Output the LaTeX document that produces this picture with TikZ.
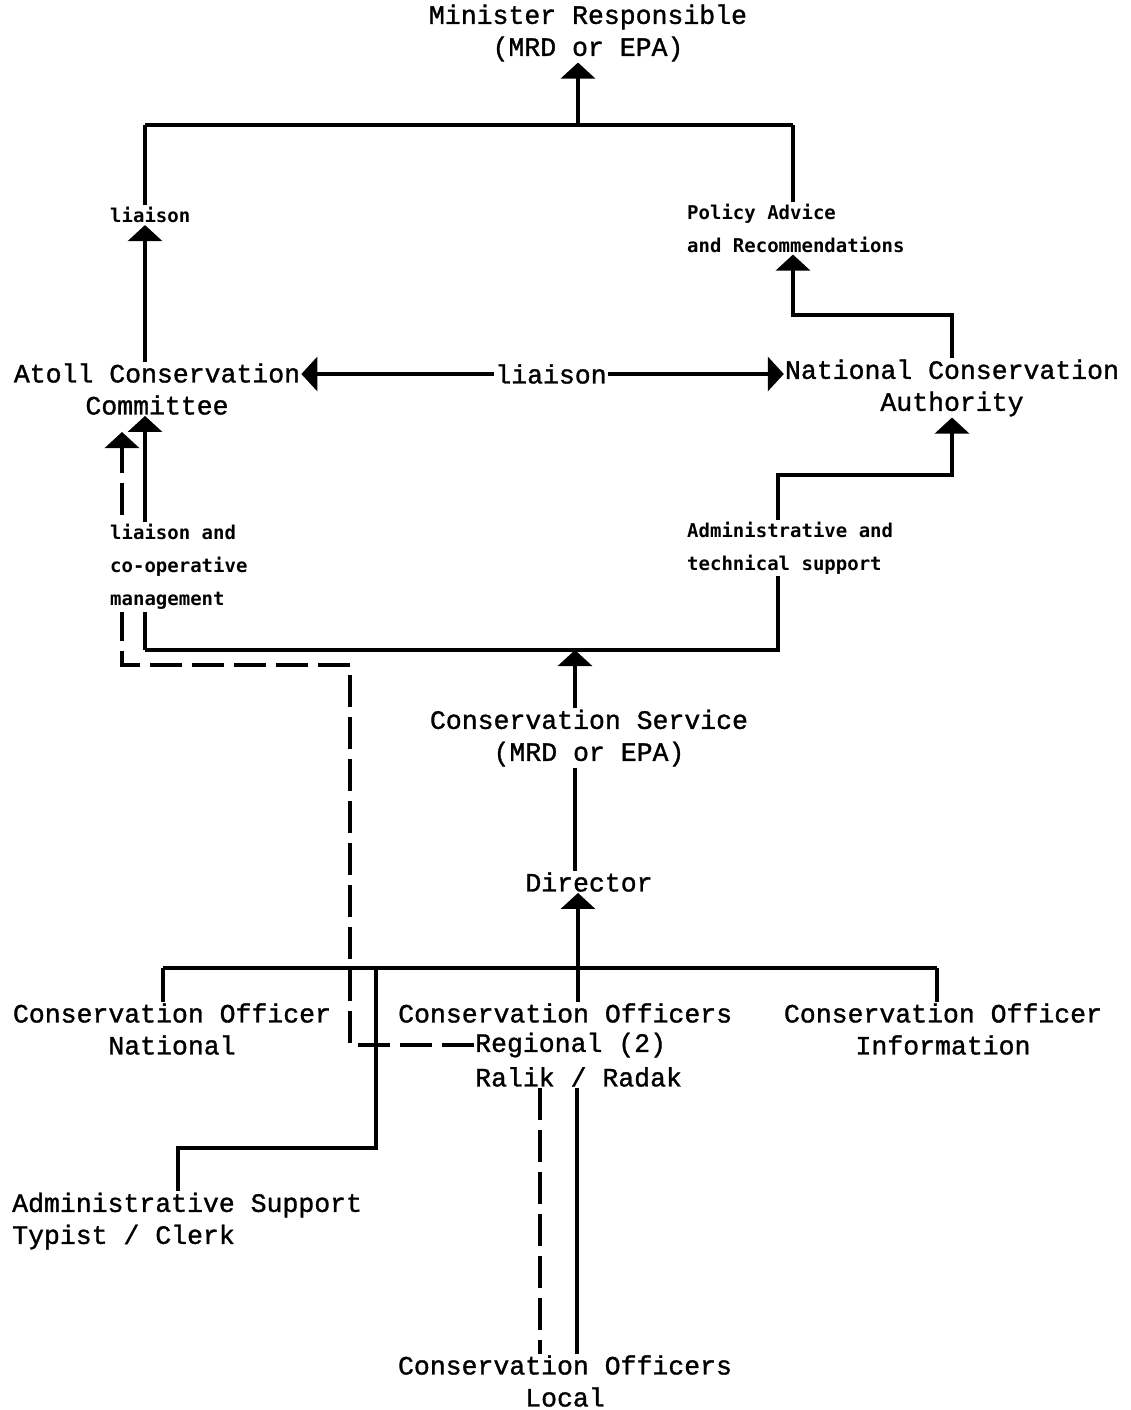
\documentclass[tikz,border=0pt]{standalone}
\usepackage{fontspec}
\setmonofont{Liberation Mono}[FakeBold=1.2]
\newfontfamily\labfont{DejaVu Sans Mono}
\usetikzlibrary{arrows.meta}
\pgfdeclarelayer{background}
\pgfsetlayers{background,main}
\begin{document}
\begin{tikzpicture}[x=1pt,y=-1pt,
  main/.style={font=\fontsize{26.5}{32}\selectfont\ttfamily, inner sep=1pt, align=center},
  lab/.style={font=\fontsize{19}{33}\selectfont\labfont\bfseries, inner sep=2pt, align=left, fill=white, anchor=west},
  ln/.style={line width=3.2pt},
  arr/.style={ln, -{Triangle[length=16pt,width=34pt]}},
  dsh/.style={ln, dash pattern=on 32pt off 10pt}]
\useasboundingbox (0,0) rectangle (1130,1410);

% main nodes
\node[main] (min) at (588,33) {Minister Responsible\\(MRD or EPA)};
\node[main] (acc) at (157,389) {Atoll Conservation\\Committee};
\node[main] (nca) at (952,388) {National Conservation\\Authority};
\node[main] (lia) at (551,374) {liaison};
\node[main] (cs) at (589,738) {Conservation Service\\(MRD or EPA)};
\node[main] (dir) at (589,882) {Director};
\node[main] (con) at (172,1029) {Conservation Officer\\National};
\node[main, anchor=west] (cor1) at (397,1013) {Conservation Officers};
\node[main, anchor=west] (cor2) at (474,1045) {Regional (2)};
\node[main, anchor=west] (cor3) at (474,1077) {Ralik / Radak};
\node[main] (coi) at (943,1029) {Conservation Officer\\Information};
\node[main, align=left, anchor=west] (adm) at (11,1221) {Administrative Support\\Typist / Clerk};
\node[main] (col) at (565,1381) {Conservation Officers\\Local};

% small labels
\node[lab] (l1) at (108,215) {liaison};
\node[lab] (pa) at (685,228) {Policy Advice\\and Recommendations};
\node[lab] (lc) at (108,567) {liaison and\\co-operative\\management};
\node[lab] (ats) at (685,548) {Administrative and\\technical support};

\begin{pgfonlayer}{background}
% top
\draw[arr] (578,125) -- (578,0 |- min.south);
\draw[ln] (145,125) -- (793,125);
\draw[ln] (145,125) -- (145,0 |- l1.center);
\draw[arr] (145,0 |- acc.north) -- (145,0 |- l1.south);
\draw[ln] (793,125) -- (793,0 |- pa.center);
\draw[arr] (952,0 |- nca.north) -- (952,315) -- (793,315) -- (793,0 |- pa.south);
% liaison double arrow
\draw[arr] (lia.west) -- (acc.east |- lia.west);
\draw[arr] (lia.east) -- (nca.west |- lia.east);
% support / co-operative
\draw[arr] (145,650) -- (145,0 |- acc.south);
\draw[arr] (145,650) -- (778,650) -- (778,475) -- (952,475) -- (952,0 |- nca.south);
\draw[arr] (575,0 |- cs.north) -- (575,650);
\draw[dsh, -{Triangle[length=16pt,width=34pt]}] (cor2.west) -- (350,0 |- cor2.west) -- (350,665) -- (122,665) -- (122,432);
% service to director
\draw[ln] (575,0 |- cs.south) -- (575,0 |- dir.north);
\draw[arr] (578,0 |- cor1.north) -- (578,0 |- dir.south);
\draw[ln] (163,968) -- (937,968);
\draw[ln] (163,968) -- (163,0 |- con.north);
\draw[ln] (937,968) -- (937,0 |- coi.north);
\draw[ln] (376,968) -- (376,1148) -- (178,1148) -- (178,0 |- adm.north);
% regional to local
\draw[dsh] (540,0 |- cor3.south) -- (540,0 |- col.north);
\draw[ln] (577,0 |- cor3.south) -- (577,0 |- col.north);
\end{pgfonlayer}
\end{tikzpicture}
\end{document}
